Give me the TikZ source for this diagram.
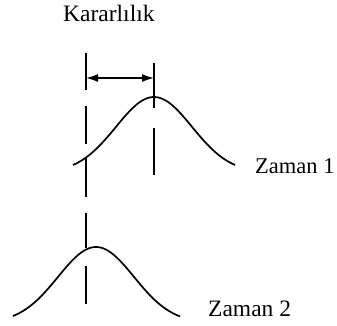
\documentclass[tikz,border=0pt]{standalone}
\usepackage{fontspec}
\setmainfont{Liberation Serif}
\usetikzlibrary{arrows.meta}
\begin{document}
\begin{tikzpicture}[x=1pt,y=-1pt,
  lbl/.style={anchor=base west,inner sep=0pt,font=\fontsize{23.5}{28}\selectfont},
  ln/.style={line width=1.8pt},
  crv/.style={line width=1.7pt,line join=round}]
\useasboundingbox (0,0) rectangle (337,325);
% labels
\node[lbl] (kar) at (63,21) {Kararlılık};
\node[lbl,font=\fontsize{22.5}{27}\selectfont] (z1) at (255,173) {Zaman 1};
\node[lbl] (z2) at (208,316) {Zaman 2};
% reference coordinates
\coordinate (la) at (86,53);
\coordinate (lb) at (86,90);
\coordinate (ra) at (154,63);
\coordinate (rb) at (154,108);
% left dashed line
\draw[ln] (la) -- (lb);
\draw[ln] (86,106) -- (86,144);
\draw[ln] (86,157) -- (86,197);
\draw[ln] (86,213) -- (86,248);
\draw[ln] (86,266) -- (86,304);
% right dashed line
\draw[ln] (ra) -- (rb);
\draw[ln] (154,128) -- (154,175);
% arrow
\coordinate (aL) at (86,78);
\coordinate (aR) at (154,78);
\draw[line width=1.3pt,{Latex[length=12pt,width=8pt]}-{Latex[length=12pt,width=8pt]}] (aL) -- (aR);
% curves
\draw[crv] plot[domain=-81:81,samples=80,smooth] ({154+\x},{172.8-75.8*exp(-(\x*\x)/2888)});
\draw[crv] plot[domain=-83:84,samples=80,smooth] ({96+\x},{323-76*exp(-(\x*\x)/2888)});
\end{tikzpicture}
\end{document}
